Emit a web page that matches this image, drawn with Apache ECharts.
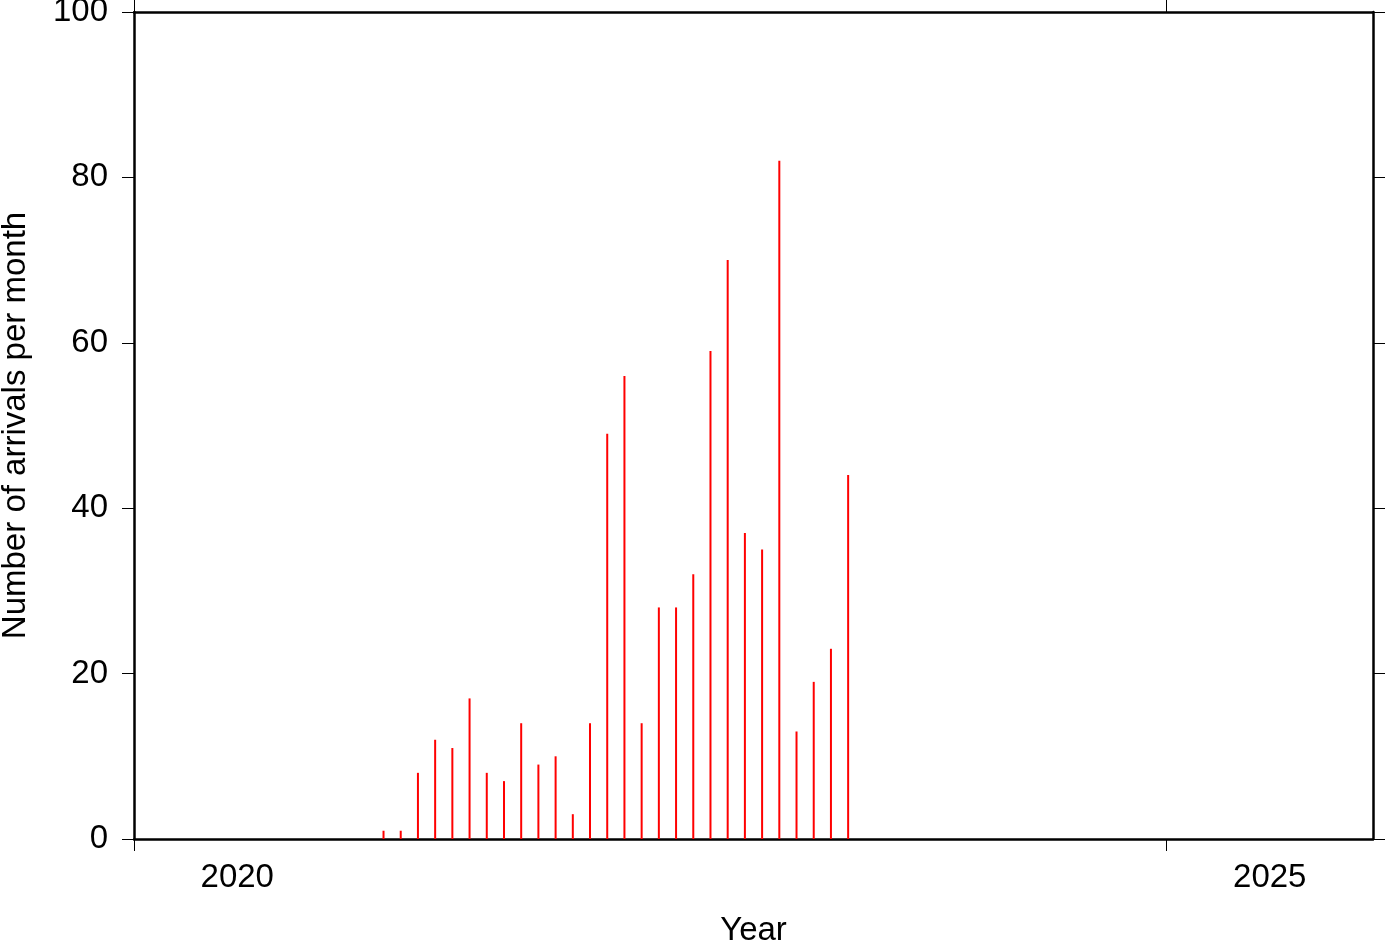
<!DOCTYPE html>
<html>
<head>
<meta charset="utf-8">
<script src="https://cdn.jsdelivr.net/npm/echarts@6/dist/echarts.min.js"></script>
<style>html,body{margin:0;padding:0;background:#fff}#c{width:1387px;height:942px}</style>
</head>
<body>
<div id="c"></div>
<script>
const months = ['2021-03','2021-04','2021-05','2021-06','2021-07','2021-08','2021-09','2021-10','2021-11','2021-12',
  '2022-01','2022-02','2022-03','2022-04','2022-05','2022-06','2022-07','2022-08','2022-09','2022-10','2022-11','2022-12',
  '2023-01','2023-02','2023-03','2023-04','2023-05','2023-06'];
const arrivals = [1,1,8,12,11,17,8,7,14,9,10,3,14,49,56,14,28,28,32,59,70,37,35,82,13,19,23,44];
const yearTicks = [2020, 2025];
const yTicks = [0,20,40,60,80,100];

function decYear(s){ const [y,m]=s.split('-').map(Number); return y + (m-0.5)/12; }
const data = months.map((m,i)=>[decYear(m), arrivals[i]]);

const font = 'Liberation Sans, Helvetica, Arial, sans-serif';
const chart = echarts.init(document.getElementById('c'), null, {renderer:'canvas'});
chart.setOption({
  animation:false,
  grid:{left:134, right:14, top:12, bottom:103, containLabel:false, outerBoundsMode:'none'},
  xAxis:[{
    type:'value', min:2020, max:2026, position:'bottom',
    name:'Year', nameLocation:'middle', nameGap:75,
    nameTextStyle:{fontFamily:font, fontSize:33, color:'#000'},
    splitLine:{show:false},
    axisLine:{show:true, onZero:false, lineStyle:{color:'#000', width:2.5}},
    axisTick:{show:true, inside:false, length:12, lineStyle:{color:'#000', width:1}, customValues:yearTicks},
    axisLabel:{show:true, margin:22, fontFamily:font, fontSize:33, color:'#000',
      customValues:yearTicks.map(v=>v+0.5), formatter:v=>String(Math.floor(v))}
  },{
    type:'value', min:2020, max:2026, position:'top',
    splitLine:{show:false},
    axisLine:{show:true, onZero:false, lineStyle:{color:'#000', width:2.5}},
    axisTick:{show:true, inside:false, length:12, lineStyle:{color:'#000', width:1}, customValues:yearTicks},
    axisLabel:{show:false}
  }],
  yAxis:[{
    type:'value', min:0, max:100, interval:20, position:'left',
    name:'Number of arrivals per month', nameLocation:'middle', nameGap:102,
    nameTextStyle:{fontFamily:font, fontSize:33, color:'#000'},
    splitLine:{show:false},
    axisLine:{show:true, onZero:false, lineStyle:{color:'#000', width:2.5}},
    axisTick:{show:true, inside:false, length:12, lineStyle:{color:'#000', width:1}},
    axisLabel:{show:true, margin:26, fontFamily:font, fontSize:33, color:'#000'}
  },{
    type:'value', min:0, max:100, interval:20, position:'right',
    splitLine:{show:false},
    axisLine:{show:true, onZero:false, lineStyle:{color:'#000', width:2.5}},
    axisTick:{show:true, inside:false, length:12, lineStyle:{color:'#000', width:1}},
    axisLabel:{show:false}
  }],
  series:[{
    type:'bar', xAxisIndex:0, yAxisIndex:0, data:data, barWidth:2,
    itemStyle:{color:'#ff0000'}
  }]
});
</script>
</body>
</html>
